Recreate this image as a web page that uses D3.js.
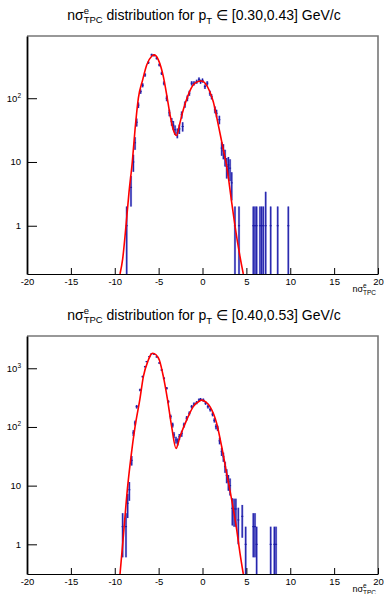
<!DOCTYPE html>
<html lang="en">
<head>
<meta charset="UTF-8">
<script src="https://d3js.org/d3.v7.min.js"></script>
<style>
  body { margin: 0; background: #fff; }
  svg { display: block; font-family: "Liberation Sans", Arial, sans-serif; }
  svg text { white-space: pre; }
</style>
</head>
<body>
<div id="chart_area"></div>
<script>
// ---- data ----
// top pad, pT in [0.30,0.43]
var topX = [-8.64, -8.15, -7.88, -7.69, -7.5, -7.31, -7.05, -6.82, -6.55, -6.17, -5.79, -5.53, -5.22, -4.92, -4.65,
  -4.39, -4.08, -3.78, -3.51, -3.33, -3.13, -2.87, -2.64, -2.37, -2.26, -2.0, -1.73, -1.5, -1.23, -0.97, -0.66,
  -0.4, -0.22, 0.0, 0.28, 0.54, 0.85, 1.03, 1.42, 1.6, 1.92, 2.19, 2.38, 2.57, 2.76, 2.95, 3.14, 3.33,
  3.7, 4.16, 5.79, 5.98, 6.17, 6.55, 6.74, 6.93, 7.2, 7.77, 8.57, 9.78];
var topY = [1, 4, 10, 20, 42, 78, 127, 160, 232, 362, 478, 470, 424, 333, 246,
  172, 100, 59, 43, 38, 32, 28.5, 33, 55, 36, 80, 100, 120, 172, 172, 182,
  198, 182, 190, 152, 172, 120, 106, 66, 58, 46, 16.5, 15, 12, 8.5, 9, 8, 4.7,
  1, 1, 1, 1, 1, 1, 1, 1, 1, 1, 1, 1];
var topErr = [1, 2, 3, 4.5, 6, 8, 10, 12, 14, 18, 20, 20, 19, 17, 15,
  12, 10, 7, 6, 6, 5.5, 5, 5.5, 7, 6, 9, 10, 11, 13, 13, 13,
  14, 13, 14, 12, 13, 11, 10, 8, 8, 7, 4, 4, 3.5, 3, 3, 3, 2.2,
  1, 1, 1, 1, 1, 1, 1, 1, 2.4, 1, 1, 1];
var topFitX = [-9.4, -9.1, -8.72, -8.38, -8.0, -7.69, -7.31, -6.82, -6.36, -5.79, -5.53, -5.3, -5.03, -4.46, -4.08,
  -3.7, -3.33, -2.95, -2.57, -2.19, -1.62, -1.05, -0.4, -0.1, 0.3, 0.8, 1.23, 1.6, 2.0, 2.4, 2.76, 3.05, 3.33,
  3.7, 4.27, 4.65];
var topFitY = [0.175, 0.3, 1, 3.3, 10, 32, 100, 194, 333, 455, 478, 462, 400, 218, 113,
  55, 32, 26, 41, 66, 113, 162, 185, 186, 172, 130, 88, 52, 28, 15, 8.5, 4.5, 2.3,
  1.0, 0.33, 0.175];

// bottom pad, pT in [0.40,0.53]
var botX = [-9.1, -8.72, -8.53, -8.34, -8.07, -7.88, -7.69, -7.5, -7.12, -6.82, -6.55, -6.36, -6.06, -5.79, -5.53,
  -5.22, -4.92, -4.65, -4.39, -4.08, -3.9, -3.63, -3.4, -3.25, -3.02, -2.83, -2.64, -2.37, -2.11, -1.8, -1.5,
  -1.23, -0.97, -0.66, -0.4, -0.22, 0.09, 0.35, 0.62, 0.88, 1.15, 1.35, 1.54, 1.73, 1.95, 2.19, 2.38, 2.57,
  2.76, 2.95, 3.14, 3.4, 3.6, 3.8, 4.08, 4.53, 4.92, 5.79, 5.98, 6.17, 7.77, 8.19, 8.38];
var botY = [2, 2, 5, 8.5, 27, 79, 117, 222, 427, 720, 1065, 1300, 1580, 1780, 1740,
  1560, 1230, 935, 675, 457, 270, 150, 108, 73, 60, 56, 68, 77, 108, 141, 171,
  222, 245, 260, 287, 295, 287, 255, 222, 198, 165, 130, 101, 95, 58, 38, 31, 21,
  15, 11.7, 10, 4.1, 4, 4, 2.6, 3, 1, 2, 2, 1, 1, 1, 1];
var botErr = [1.4, 1.4, 2.2, 3, 5, 9, 11, 15, 20, 27, 33, 36, 40, 42, 42,
  40, 35, 30, 26, 21, 16, 12, 10, 8.5, 8, 7.5, 8, 9, 10, 12, 13,
  15, 16, 16, 17, 17, 17, 16, 15, 14, 13, 11, 10, 10, 7.5, 6, 5.5, 4.5,
  4, 3.5, 3.2, 2, 2, 2, 1.6, 1.7, 1, 1.4, 1.4, 1, 1, 1, 1];
var botFitX = [-9.4, -9.1, -8.52, -8.15, -7.69, -7.12, -6.74, -6.17, -5.9, -5.68, -5.3, -4.92, -4.46, -4.01, -3.51,
  -3.02, -2.57, -1.8, -1.05, -0.28, -0.09, 0.4, 0.85, 1.61, 2.19, 2.76, 3.33, 3.9, 4.27, 4.65];
var botFitY = [0.312, 1, 10, 31, 100, 308, 720, 1385, 1700, 1800, 1700, 1385, 720, 308, 100,
  43, 68, 132, 222, 280, 287, 265, 222, 116, 46, 16, 5.7, 1.76, 0.71, 0.312];

var xMajor = [-20, -15, -10, -5, 0, 5, 10, 15, 20];
var xMinor = d3.range(-20, 21, 1);
var topDecades = [1, 10, 100];
var botDecades = [1, 10, 100, 1000];
var topRange = "[0.30,0.43]";
var botRange = "[0.40,0.53]";

var W = 384, H = 594;
var svg = d3.select("#chart_area").append("svg").attr("width", W).attr("height", H);
svg.append("rect").attr("width", W).attr("height", H).attr("fill", "#fff");

// lay out text pieces (super/subscripts); stack=true puts a piece above/below the previous one
function richText(g, pieces, x0, base, anchor) {
  var grp = g.append("g");
  var x = 0, prevStart = 0;
  pieces.forEach(function (p) {
    var start = (p.stack ? prevStart : x) + (p.gap || 0);
    var el = grp.append("text")
      .attr("x", start).attr("y", base + (p.dy || 0))
      .style("font-size", p.fs + "px").attr("fill", "#000")
      .text(p.t);
    var w = el.node().getComputedTextLength();
    x = p.stack ? Math.max(x, start + w) : start + w;
    prevStart = start;
  });
  var shift = anchor === "middle" ? x0 - x / 2 : (anchor === "end" ? x0 - x : x0);
  grp.attr("transform", "translate(" + shift + ",0)");
}

function drawPanel(opt) {
  var left = 27, right = 378, top = opt.top, bottom = opt.top + 238;
  var x = d3.scaleLinear().domain([-20, 20]).range([left, right]);
  var y = d3.scaleLog().domain(opt.yDomain).range([bottom, top]);
  var g = svg.append("g");

  var clipId = "clip" + opt.id;
  svg.append("clipPath").attr("id", clipId).append("rect")
    .attr("x", left).attr("y", top).attr("width", right - left).attr("height", bottom - top);
  var marks = g.append("g").attr("clip-path", "url(#" + clipId + ")");

  var bw = 0.25;
  var pts = opt.xs.map(function (d, i) { return { x: d, y: opt.ys[i], e: opt.es[i] }; });
  function yLo(d) { return d.y - d.e > 0 ? y(d.y - d.e) : bottom + 2; }

  // shaded error boxes
  marks.selectAll(".box").data(pts).enter().append("rect")
    .attr("x", function (d) { return x(d.x - bw / 2); })
    .attr("width", x(bw) - x(0))
    .attr("y", function (d) { return y(d.y + d.e); })
    .attr("height", function (d) { return yLo(d) - y(d.y + d.e); })
    .attr("fill", "#7a7ad8").attr("opacity", 0.75);

  // stat error bars
  marks.selectAll(".bar").data(pts).enter().append("line")
    .attr("x1", function (d) { return x(d.x); }).attr("x2", function (d) { return x(d.x); })
    .attr("y1", function (d) { return y(d.y + d.e); }).attr("y2", yLo)
    .attr("stroke", "#1a1aa6").attr("stroke-width", 1.1);
  marks.selectAll(".dash").data(pts).enter().append("line")
    .attr("x1", function (d) { return x(d.x - 0.12); }).attr("x2", function (d) { return x(d.x + 0.12); })
    .attr("y1", function (d) { return y(d.y); }).attr("y2", function (d) { return y(d.y); })
    .attr("stroke", "#1a1aa6").attr("stroke-width", 1);

  // fit curve
  var fit = opt.fx.map(function (d, i) { return [d, opt.fy[i]]; });
  marks.append("path").datum(fit)
    .attr("d", d3.line().x(function (d) { return x(d[0]); }).y(function (d) { return y(d[1]); })
      .curve(d3.curveMonotoneX))
    .attr("fill", "none").attr("stroke", "#ff0000").attr("stroke-width", 1.6);

  // frame top/right
  g.append("path")
    .attr("d", "M" + left + "," + top + "H" + right + "V" + bottom)
    .attr("fill", "none").attr("stroke", "#777").attr("stroke-width", 1.6);

  // x axis (ticks point inward)
  var xa = g.append("g").attr("transform", "translate(0," + bottom + ")");
  xa.call(d3.axisBottom(x).tickValues(xMinor).tickSize(-3).tickSizeOuter(0).tickFormat(""));
  xa.call(d3.axisBottom(x).tickValues(xMajor).tickSize(-6).tickSizeOuter(0).tickPadding(4)
    .tickFormat(function (d) { return String(d); }));
  xa.selectAll("path.domain").attr("stroke", "#000").attr("stroke-width", 1.2);
  xa.selectAll("line").attr("stroke", "#000");
  xa.selectAll("text").style("font-size", "9.5px").attr("fill", "#000")
    .style("font-family", "'Liberation Sans', Arial, sans-serif");

  // y axis (log)
  var minor = [];
  var lo = opt.yDomain[0], hi = opt.yDomain[1];
  [0.1, 1, 10, 100, 1000].forEach(function (dec) {
    for (var k = 2; k <= 9; k++) { var v = k * dec; if (v >= lo && v <= hi) minor.push(v); }
  });
  var ya = g.append("g").attr("transform", "translate(" + left + ",0)");
  ya.call(d3.axisLeft(y).tickValues(minor).tickSize(-5).tickSizeOuter(0).tickFormat(""));
  ya.call(d3.axisLeft(y).tickValues(opt.decades).tickSize(-10).tickSizeOuter(0).tickFormat(""));
  ya.selectAll("path.domain").attr("stroke", "#000").attr("stroke-width", 1.8);
  ya.selectAll("line").attr("stroke", "#000");

  opt.decades.forEach(function (v) {
    var p = Math.round(Math.log10(v));
    var pieces = p === 0 ? [{ t: "1", fs: 9.5 }] : (p === 1 ? [{ t: "10", fs: 9.5 }] :
      [{ t: "10", fs: 9.5 }, { t: String(p), fs: 6.5, dy: -4 }]);
    richText(g, pieces, left - 6, y(v) + 3.3, "end");
  });

  // title
  richText(g, [
    { t: "n\u03c3", fs: 14 }, { t: "e", fs: 9.5, dy: -6 }, { t: "TPC", fs: 9.5, dy: 2.5, stack: true },
    { t: " distribution for p", fs: 14 }, { t: "T", fs: 9.5, dy: 4 },
    { t: " \u2208 " + opt.range + " GeV/c", fs: 14 }
  ], 204, top - 16, "middle");

  // x axis title
  richText(g, [
    { t: "n\u03c3", fs: 9 }, { t: "e", fs: 6.5, dy: -4 }, { t: "TPC", fs: 6.5, dy: 3, stack: true }
  ], 376, bottom + 18, "end");
}

drawPanel({ id: 1, top: 36, yDomain: [0.175, 946], decades: topDecades, range: topRange,
  xs: topX, ys: topY, es: topErr, fx: topFitX, fy: topFitY });
drawPanel({ id: 2, top: 336, yDomain: [0.312, 3548], decades: botDecades, range: botRange,
  xs: botX, ys: botY, es: botErr, fx: botFitX, fy: botFitY });
</script>
</body>
</html>
